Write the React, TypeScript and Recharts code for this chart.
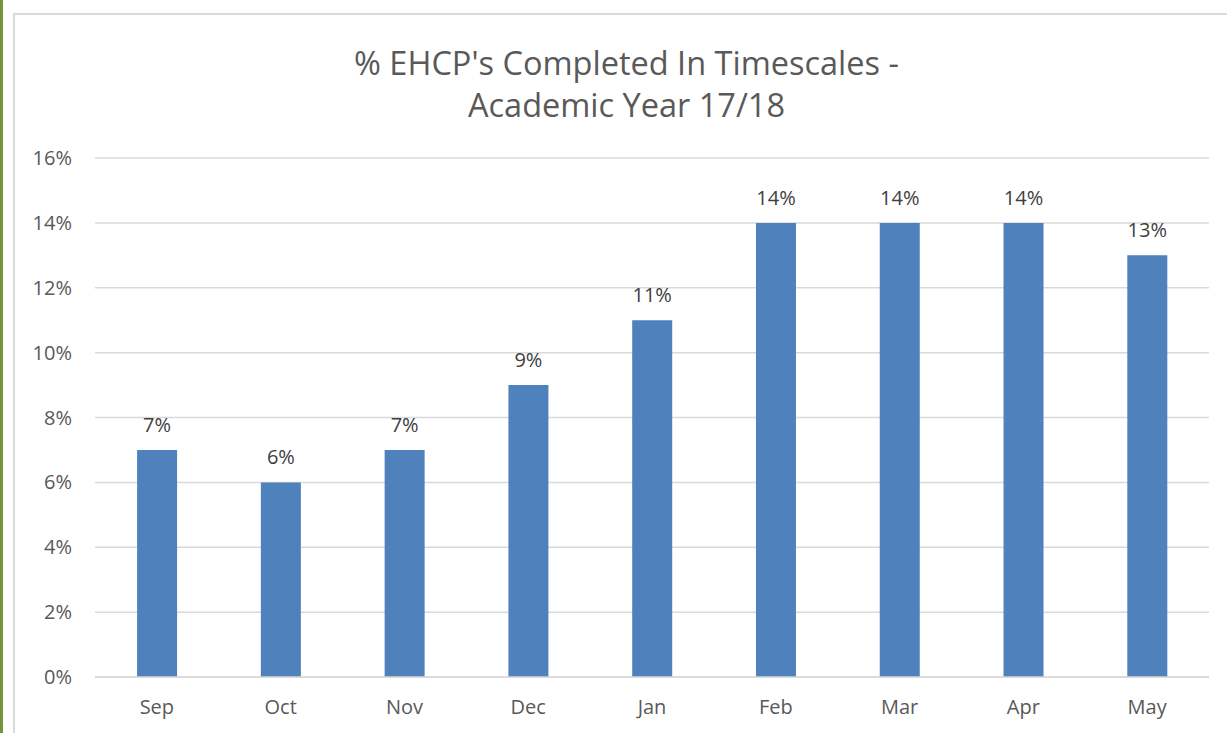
import React from "react";
import { BarChart, Bar, XAxis, YAxis, CartesianGrid, LabelList } from "recharts";

const months = ["Sep", "Oct", "Nov", "Dec", "Jan", "Feb", "Mar", "Apr", "May"];
const pctCompleted = [7, 6, 7, 9, 11, 14, 14, 14, 13];
const yTicks = [0, 2, 4, 6, 8, 10, 12, 14, 16];
const titleLines = ["% EHCP's Completed In Timescales -", "Academic Year 17/18"];

const data = months.map((m, i) => ({ month: m, value: pctCompleted[i] }));

const FONT = "'Open Sans', 'Liberation Sans', sans-serif";

export default function App() {
  return (
    <div style={{ position: "absolute", left: 0, top: 0, width: 1227, height: 733, background: "#fff", overflow: "hidden", fontFamily: FONT }}>
      <div style={{ position: "absolute", left: 0, top: 0, width: 3, height: 733, background: "#77933C" }} />
      <div style={{ position: "absolute", left: 13, top: 13, width: 1300, height: 800, border: "2px solid #d9d9d9", boxSizing: "border-box" }} />
      <div style={{ position: "absolute", left: 0, top: 0 }}>
        <BarChart width={1227} height={733} data={data} margin={{ top: 158, right: 18, bottom: 16, left: 35 }} barCategoryGap="34%">
          <CartesianGrid vertical={false} stroke="#d9d9d9" strokeWidth={1.5} />
          <XAxis dataKey="month" axisLine={{ stroke: "#d9d9d9", strokeWidth: 1.5 }} tickLine={false} tickSize={0} tickMargin={23} height={40} tick={{ fill: "#595959", fontSize: 20, fontFamily: FONT }} />
          <YAxis domain={[0, 16]} ticks={yTicks} axisLine={false} tickLine={false} tickSize={0} tickMargin={23} width={60} tickFormatter={(v: number) => `${v}%`} tick={{ fill: "#595959", fontSize: 20, fontFamily: FONT }} />
          <Bar dataKey="value" fill="#4F81BD" isAnimationActive={false}>
            <LabelList dataKey="value" position="top" offset={18} formatter={(v: any) => `${v}%`} style={{ fill: "#404040", fontSize: 20, fontFamily: FONT }} />
          </Bar>
        </BarChart>
      </div>
      <div style={{ position: "absolute", left: 20, top: 41, width: 1227, textAlign: "center", color: "#595959", fontSize: 32.5, lineHeight: "44px" }}>
        <div style={{ position: "absolute", left: 0, right: 14, top: 0, textAlign: "center" }}>{titleLines[0]}</div>
        <div style={{ position: "absolute", left: 0, right: 14, top: 42, textAlign: "center" }}>{titleLines[1]}</div>
      </div>
    </div>
  );
}
